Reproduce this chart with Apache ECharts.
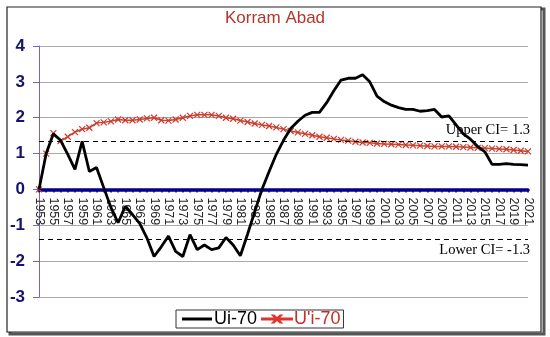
<!DOCTYPE html>
<html><head><meta charset="utf-8">
<script src="https://cdn.jsdelivr.net/npm/echarts@6/dist/echarts.min.js"></script>
<style>html,body{margin:0;padding:0;background:#fff}#c{width:550px;height:337px}</style>
</head><body><div id="c"></div>
<script>
var years = [];
for (var y = 1953; y <= 2021; y++) years.push(String(y));

var ui70 = [0,1.0,1.55,1.37,0.98,0.56,1.34,0.5,0.61,0.05,
  -0.5,-0.93,-0.47,-0.7,-0.95,-1.35,-1.87,-1.6,-1.3,-1.73,
  -1.87,-1.26,-1.68,-1.55,-1.68,-1.63,-1.34,-1.55,-1.85,-1.25,
  -0.62,0.0,0.5,0.98,1.37,1.7,1.9,2.07,2.15,2.15,
  2.42,2.75,3.05,3.1,3.1,3.2,3.0,2.6,2.45,2.35,
  2.28,2.23,2.23,2.18,2.2,2.23,2.02,2.05,1.8,1.55,
  1.4,1.2,1.05,0.7,0.7,0.72,0.7,0.69,0.68];

var uPrime70 = [0,1.0,1.57,1.35,1.47,1.6,1.68,1.72,1.85,1.87,
  1.9,1.95,1.93,1.93,1.95,1.98,2.0,1.93,1.92,1.95,
  2.0,2.05,2.08,2.08,2.08,2.05,2.0,1.97,1.92,1.88,
  1.84,1.8,1.77,1.73,1.68,1.63,1.59,1.55,1.51,1.47,
  1.44,1.41,1.38,1.36,1.33,1.31,1.3,1.28,1.27,1.26,
  1.25,1.24,1.23,1.22,1.21,1.2,1.2,1.2,1.19,1.18,
  1.17,1.16,1.15,1.14,1.13,1.12,1.1,1.08,1.06];

var yMin = -3, yMax = 4;
var upperCI = 1.35, lowerCI = -1.4;
var upperLabel = 'Upper CI= 1.3', lowerLabel = 'Lower CI= -1.3';
var seriesNames = ['Ui-70', "U'i-70"];
var titleText = 'Korram Abad';

var gridTop = 46, gridBottom = 40, H = 337;
var plotH = H - gridTop - gridBottom;
var zeroOffset = -plotH * (0 - yMin) / (yMax - yMin);

var chart = echarts.init(document.getElementById('c'), null, {renderer:'canvas'});
var xMark = 'path://M0,0L10,10M10,0L0,10';
var blackIcon = 'path://M0,3.5H30V6.5H0Z';
var redIcon = 'path://M0,4.4H30V5.6H0Z M11,1.5L12,1.5L19,8.5L18,8.5Z M18,1.5L19,1.5L12,8.5L11,8.5Z';
chart.setOption({
  animation:false,
  backgroundColor:'#fff',
  title:{text:titleText, left:'center', top:10, padding:0,
    textStyle:{fontFamily:'Liberation Sans, Arial', fontSize:17, fontWeight:'normal', color:'#b3352c'}},
  grid:{left:39, right:22, top:gridTop, bottom:gridBottom, containLabel:false},
  legend:{left:176, top:310, padding:[0,3,0,6], itemGap:4, itemWidth:30, itemHeight:10,
    borderColor:'#333', borderWidth:1, backgroundColor:'#fff',
    data:[{name:seriesNames[0], icon:blackIcon, itemStyle:{color:'#000'}, textStyle:{color:'#000'}},
          {name:seriesNames[1], icon:redIcon, itemStyle:{color:'#b04a2a'}, textStyle:{color:'#c0302a'}}],
    textStyle:{fontFamily:'Liberation Sans, Arial', fontSize:18, padding:[2,0,0,-3]}},
  xAxis:{type:'category', data:years, boundaryGap:false, position:'bottom', offset:zeroOffset,
    axisLine:{onZero:false, lineStyle:{color:'#00008b', width:3.5}},
    axisTick:{show:true, interval:0, length:3, lineStyle:{color:'#00008b', width:1.5}},
    axisLabel:{interval:1, rotate:-90, margin:8, color:'#222', fontFamily:'Liberation Sans, Arial', fontSize:12.5},
    splitLine:{show:false}},
  yAxis:{type:'value', min:yMin, max:yMax, interval:1,
    axisLine:{show:true, lineStyle:{color:'#6f66c8', width:1}},
    axisTick:{show:true, length:6, lineStyle:{color:'#6f66c8'}},
    axisLabel:{color:'#14146e', fontWeight:'bold', fontSize:17, fontFamily:'Liberation Sans, Arial', margin:14},
    splitLine:{show:true, lineStyle:{color:'#aaa', width:1}}},
  series:[
    {name:seriesNames[0], type:'line', data:ui70, symbol:'none', smooth:false,
      lineStyle:{color:'#000', width:2.8}, itemStyle:{color:'#000'}, z:4,
      markLine:{silent:true, symbol:'none', animation:false,
        lineStyle:{color:'#000', type:[5,4], width:1},
        data:[
          {yAxis:upperCI, label:{show:true, position:'insideEndTop', formatter:upperLabel, color:'#000', fontFamily:'Liberation Serif, Times New Roman', fontSize:14.5, distance:[-2, 3]}},
          {yAxis:lowerCI, label:{show:true, position:'insideEndBottom', formatter:lowerLabel, color:'#000', fontFamily:'Liberation Serif, Times New Roman', fontSize:14.5, distance:[-2, 3]}}
        ]}},
    {name:seriesNames[1], type:'line', data:uPrime70, symbol:xMark, symbolSize:6, showAllSymbol:true,
      lineStyle:{color:'#9a5a2e', width:1.5},
      itemStyle:{color:'none', borderColor:'#e0332e', borderWidth:1.2}, z:3}
  ],
  graphic:[
    {type:'rect', shape:{x:10, y:9, width:534, height:325}, style:{fill:'none', stroke:'#555', lineWidth:3}, z:-2},
    {type:'rect', shape:{x:7, y:7, width:534, height:325}, style:{fill:'#fff', stroke:'#222', lineWidth:1.2}, z:-1}
  ]
});
</script></body></html>
